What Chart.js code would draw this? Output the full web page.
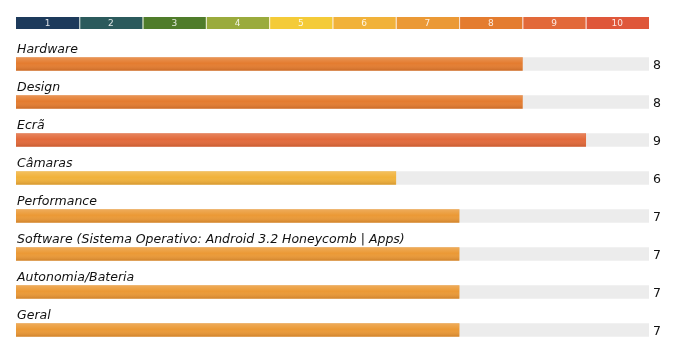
<!DOCTYPE html>
<html>
<head>
<meta charset="utf-8">
<script src="https://cdn.jsdelivr.net/npm/chart.js@4.4.0/dist/chart.umd.min.js"></script>
<style>
  body { margin: 0; background: #fff; }
  #wrap { width: 675px; height: 361px; }
</style>
</head>
<body>
<div id="wrap"><canvas id="notas"></canvas></div>
<script>
const categorias = ['Hardware', 'Design', 'Ecrã', 'Câmaras', 'Performance',
  'Software (Sistema Operativo: Android 3.2 Honeycomb | Apps)', 'Autonomia/Bateria', 'Geral'];
const notas = [8, 8, 9, 6, 7, 7, 7, 7];
const notaMax = 10;

// escala de cores do topo (1 a 10)
const escalaLabels = ['1', '2', '3', '4', '5', '6', '7', '8', '9', '10'];
const escalaCores = ['#1d3a5b', '#2b5a5c', '#4f7c2a', '#9aab3c', '#f4cb38',
  '#f1b23a', '#eb9935', '#e47c2f', '#e2693a', '#df573a'];

function corNota(v) {
  return escalaCores[Math.round(v) - 1];
}

const escalaPlugin = {
  id: 'escala',
  afterDraw(chart) {
    const ctx = chart.ctx;
    const x = chart.scales.x;
    const top = 17, h = 12;
    ctx.save();
    escalaLabels.forEach((lbl, i) => {
      const x0 = x.getPixelForValue(i);
      const x1 = x.getPixelForValue(i + 1);
      ctx.fillStyle = escalaCores[i];
      ctx.fillRect(x0, top, x1 - x0, h);
      if (i > 0) {
        ctx.fillStyle = 'rgba(255,255,255,0.8)';
        ctx.fillRect(x0, top, 1, h);
      }
      ctx.fillStyle = 'rgba(255,255,255,0.85)';
      ctx.font = '9px "DejaVu Sans"';
      ctx.textAlign = 'center';
      ctx.textBaseline = 'middle';
      ctx.fillText(lbl, (x0 + x1) / 2, top + h / 2 + 0.5);
    });
    ctx.restore();
  }
};

const textosPlugin = {
  id: 'textos',
  afterDatasetsDraw(chart) {
    const ctx = chart.ctx;
    const meta = chart.getDatasetMeta(0);
    const x = chart.scales.x;
    ctx.save();
    meta.data.forEach((bar, i) => {
      const topo = bar.y - bar.height / 2;
      // brilho / sombra na barra
      const g = ctx.createLinearGradient(0, topo, 0, topo + bar.height);
      g.addColorStop(0, 'rgba(255,255,255,0.18)');
      g.addColorStop(0.45, 'rgba(255,255,255,0)');
      g.addColorStop(1, 'rgba(90,30,0,0.18)');
      ctx.fillStyle = g;
      ctx.fillRect(bar.base, topo, bar.x - bar.base, bar.height);

      ctx.fillStyle = '#111';
      ctx.font = 'italic 12.5px "DejaVu Sans"';
      ctx.textAlign = 'left';
      ctx.textBaseline = 'alphabetic';
      ctx.fillText(categorias[i], x.getPixelForValue(0) + 1, topo - 5);

      ctx.font = '12.5px "DejaVu Sans"';
      ctx.fillText(String(notas[i]), x.getPixelForValue(notaMax) + 4, bar.y + 5);
    });
    ctx.restore();
  }
};

new Chart(document.getElementById('notas'), {
  type: 'bar',
  data: {
    labels: categorias,
    datasets: [
      {
        data: notas,
        backgroundColor: notas.map(corNota),
        barThickness: 13,
        order: 0
      },
      {
        data: categorias.map(() => notaMax),
        backgroundColor: '#ececec',
        barThickness: 13,
        order: 1
      }
    ]
  },
  options: {
    indexAxis: 'y',
    responsive: true,
    maintainAspectRatio: false,
    animation: false,
    layout: { padding: { left: 16, right: 26, top: 45, bottom: 12 } },
    datasets: { bar: { grouped: false } },
    scales: {
      x: { min: 0, max: notaMax, display: false },
      y: { display: false }
    },
    plugins: {
      legend: { display: false },
      tooltip: { enabled: false }
    }
  },
  plugins: [escalaPlugin, textosPlugin]
});
</script>
</body>
</html>
